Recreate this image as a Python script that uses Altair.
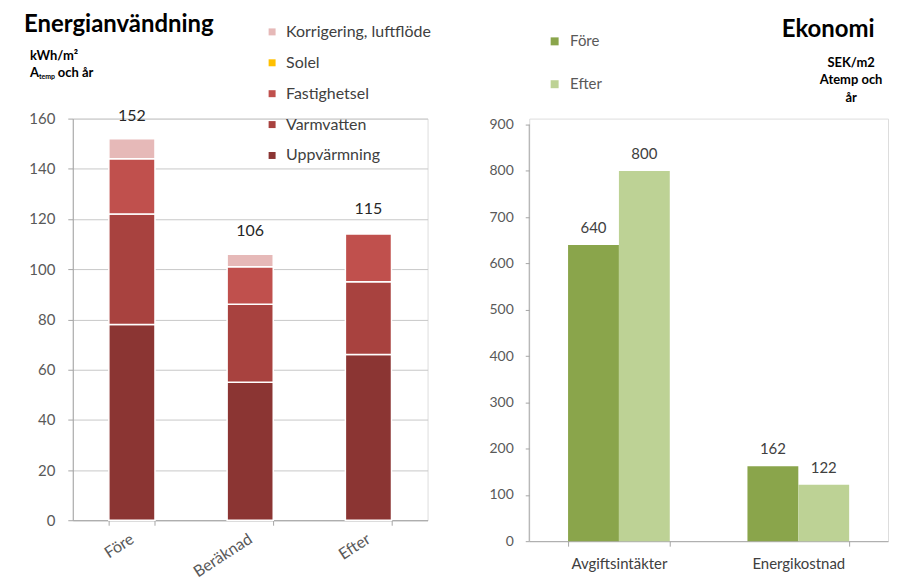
import altair as alt
import pandas as pd

# ---------------- data ----------------
left_categories = ["Före", "Beräknad", "Efter"]
left_series = ["Uppvärmning", "Varmvatten", "Fastighetsel", "Solel", "Korrigering, luftflöde"]
uppvarmning = [78, 55, 66]
varmvatten = [44, 31, 29]
fastighetsel = [22, 15, 19]
solel = [0, 0, 0]
korrigering = [8, 5, 0]
left_totals = [152, 106, 115]
left_colors = ["#8B3533", "#A8423F", "#C0504D", "#FFC000", "#E6B9B8"]

right_categories = ["Avgiftsintäkter", "Energikostnad"]
right_series = ["Före", "Efter"]
fore_values = [640, 162]
efter_values = [800, 122]
right_colors = ["#8AA54B", "#BDD295"]

FONT = "Lato"
AXIS_GRAY = "#a6a6a6"
GRID_GRAY = "#c8c8c8"
LABEL_GRAY = "#595959"

# ---------------- left chart ----------------
rows = []
for si, (s, vals) in enumerate(zip(left_series, [uppvarmning, varmvatten, fastighetsel, solel, korrigering])):
    for c, v in zip(left_categories, vals):
        if v > 0:
            rows.append({"cat": c, "serie": s, "value": v, "ordr": si})
left_df = pd.DataFrame(rows)
tot_df = pd.DataFrame({"cat": left_categories, "total": left_totals})

left_x = alt.X(
    "cat:N", sort=left_categories,
    scale=alt.Scale(paddingInner=0.61, paddingOuter=0.305),
    axis=alt.Axis(title=None, labelAngle=-33, labelAlign="right", labelBaseline="middle",
                  tickBand="extent", tickSize=5, tickColor=AXIS_GRAY, domainColor=AXIS_GRAY,
                  labelFont=FONT, labelFontSize=16, labelColor=LABEL_GRAY, labelPadding=12, grid=False),
)

left_bars = alt.Chart(left_df).mark_bar(stroke="white", strokeWidth=1.5).encode(
    x=left_x,
    y=alt.Y("value:Q", stack="zero",
            scale=alt.Scale(domain=[0, 160], nice=False),
            axis=alt.Axis(title=None, values=list(range(0, 161, 20)), tickSize=5, tickColor=AXIS_GRAY,
                          domainColor=AXIS_GRAY, gridColor=GRID_GRAY, labelFont=FONT, labelFontSize=15,
                          labelColor=LABEL_GRAY, labelPadding=13)),
    color=alt.Color("serie:N",
                    scale=alt.Scale(domain=left_series[::-1], range=left_colors[::-1]),
                    legend=alt.Legend(title=None, orient="none", legendX=192, legendY=-95,
                                      symbolType="square", symbolSize=49, symbolStrokeWidth=0,
                                      labelFont=FONT, labelFontSize=16, labelColor="#404040",
                                      rowPadding=15, labelOffset=6, padding=0)),
    order=alt.Order("ordr:Q", sort="ascending"),
)

left_tot = alt.Chart(tot_df).mark_text(dy=-23, fontSize=16, font=FONT, color="#262626").encode(
    x=alt.X("cat:N", sort=left_categories), y=alt.Y("total:Q"), text="total:Q"
)

def txt(s, x, y, size, bold=True, align="left", color="black"):
    return alt.Chart(pd.DataFrame({"t": [s]})).mark_text(
        align=align, baseline="middle", fontSize=size, font=FONT,
        fontWeight="bold" if bold else "normal", color=color
    ).encode(x=alt.value(x), y=alt.value(y), text="t:N")

left_title = txt("Energianvändning", -49, -94, 24)
left_unit1 = txt("kWh/m²", -43, -63, 13)
left_unit2a = txt("A", -43, -46, 13)
left_unit2b = txt("temp", -34, -42, 7)
left_unit2c = txt("och år", -15, -46, 13)

left = alt.layer(left_bars, left_tot, left_title, left_unit1, left_unit2a, left_unit2b, left_unit2c).properties(
    width=356, height=403
)

# ---------------- right chart ----------------
rrows = []
for s, vals in zip(right_series, [fore_values, efter_values]):
    for c, v in zip(right_categories, vals):
        rrows.append({"cat": c, "serie": s, "value": v})
right_df = pd.DataFrame(rrows)

right_x = alt.X(
    "cat:N", sort=right_categories,
    scale=alt.Scale(paddingInner=0.433, paddingOuter=0.2165),
    axis=alt.Axis(title=None, labelAngle=0, tickBand="extent", tickSize=5, tickColor=AXIS_GRAY,
                  domainColor=AXIS_GRAY, labelFont=FONT, labelFontSize=15, labelColor="#404040",
                  labelPadding=10, grid=False),
)
right_xoff = alt.XOffset("serie:N", sort=right_series,
                         scale=alt.Scale(domain=right_series, paddingInner=0, paddingOuter=0))

right_bars = alt.Chart(right_df).mark_bar().encode(
    x=right_x,
    xOffset=right_xoff,
    y=alt.Y("value:Q", scale=alt.Scale(domain=[0, 913], nice=False),
            axis=alt.Axis(title=None, values=list(range(0, 901, 100)), domain=False, tickSize=4,
                          tickColor=AXIS_GRAY, gridColor=GRID_GRAY, labelFont=FONT, labelFontSize=14,
                          labelColor=LABEL_GRAY, labelPadding=12)),
    color=alt.Color("serie:N", scale=alt.Scale(domain=right_series, range=right_colors),
                    legend=alt.Legend(title=None, orient="none", legendX=18, legendY=-85,
                                      symbolType="square", symbolSize=64, symbolStrokeWidth=0,
                                      labelFont=FONT, labelFontSize=15, labelColor=LABEL_GRAY,
                                      rowPadding=27, labelOffset=8, padding=0)),
)

right_labels = alt.Chart(right_df).mark_text(dy=-17, fontSize=15, font=FONT, color="#404040").encode(
    x=alt.X("cat:N", sort=right_categories),
    xOffset=alt.XOffset("serie:N", sort=right_series),
    y=alt.Y("value:Q"),
    text="value:Q",
)

right_axisline = alt.Chart(pd.DataFrame({"a": [0]})).mark_rule(color=AXIS_GRAY).encode(
    x=alt.value(0), y=alt.datum(0), y2=alt.datum(900)
)

right_title = txt("Ekonomi", 300, -89, 24, align="center")
right_u1 = txt("SEK/m2", 323, -56, 13, align="center")
right_u2 = txt("Atemp och", 323, -39, 13, align="center")
right_u3 = txt("år", 323, -21, 13, align="center")

right = alt.layer(right_axisline, right_bars, right_labels, right_title, right_u1, right_u2, right_u3).properties(
    width=360, height=424
)

chart = alt.hconcat(left, right, spacing=102, bounds="flush").resolve_scale(
    color="independent"
).resolve_legend(color="independent").properties(
    padding={"left": 15, "top": 3, "right": 0, "bottom": 0}
).configure_view(strokeWidth=0).configure(background="white")

chart.save("out.html", embed_options={"renderer": "svg", "actions": False})
